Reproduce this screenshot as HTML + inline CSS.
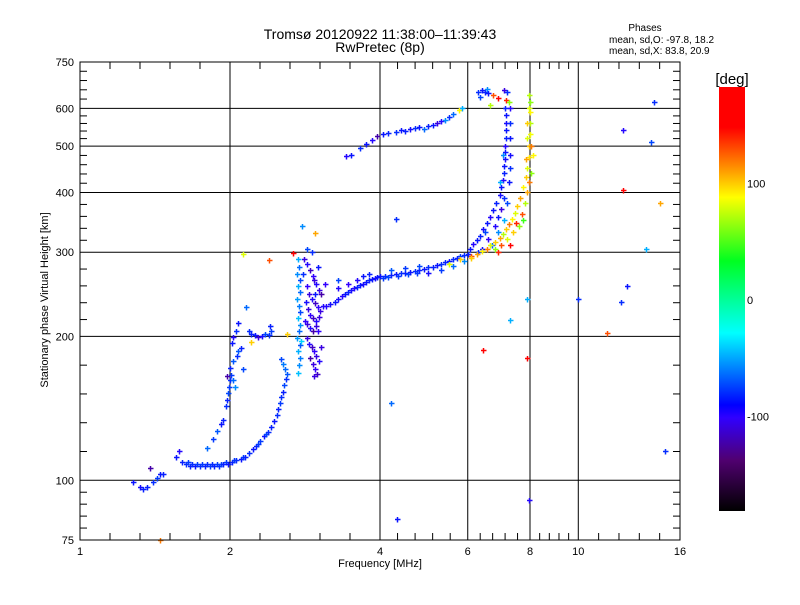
<!DOCTYPE html>
<html><head><meta charset="utf-8"><style>
body{margin:0;background:#fff;width:800px;height:600px;overflow:hidden}
svg text{font-family:"Liberation Sans",sans-serif;fill:#000}
</style></head><body>
<svg id="chart" width="800" height="600" xmlns="http://www.w3.org/2000/svg">
<defs>
<linearGradient id="cbar" x1="0" y1="1" x2="0" y2="0">
<stop offset="0" stop-color="#000000"/>
<stop offset="0.12" stop-color="#500070"/>
<stop offset="0.22" stop-color="#3000ff"/>
<stop offset="0.25" stop-color="#0000ff"/>
<stop offset="0.42" stop-color="#00ffff"/>
<stop offset="0.59" stop-color="#00ff20"/>
<stop offset="0.74" stop-color="#ffff00"/>
<stop offset="0.81" stop-color="#ff9000"/>
<stop offset="0.905" stop-color="#ff0000"/>
<stop offset="1" stop-color="#ff0000"/>
</linearGradient>
</defs>
<g id="grid"></g>
<g id="marks"></g>
<rect x="80" y="62" width="600" height="478" fill="none" stroke="#000" stroke-width="1"/>
<g id="ticks"></g>
<text x="380" y="39" font-size="14" text-anchor="middle">Tromsø 20120922 11:38:00–11:39:43</text>
<text x="380" y="52" font-size="14" text-anchor="middle">RwPretec (8p)</text>
<text x="645" y="31" font-size="10" text-anchor="middle">Phases</text>
<text x="609" y="43" font-size="10">mean, sd,O: -97.8, 18.2</text>
<text x="609" y="54" font-size="10">mean, sd,X:  83.8, 20.9</text>
<text transform="translate(48,300) rotate(-90)" font-size="11" text-anchor="middle">Stationary phase Virtual Height [km]</text>
<text x="380" y="567" font-size="11" text-anchor="middle">Frequency [MHz]</text>
<rect x="719" y="87" width="26" height="424" fill="url(#cbar)"/>
<text x="732" y="84" font-size="15" text-anchor="middle">[deg]</text>
<g id="cbticks"></g>
</svg>
<script>
const xTickValues=[1,2,4,6,8,10,16];
const xTickLabels=["1","2","4","6","8","10","16"];
const yTickValues=[75,100,200,300,400,500,600,750];
const yTickLabels=["75","100","200","300","400","500","600","750"];
const cbTickValues=[100,0,-100];
const cbTickLabels=["100","0","-100"];
const lowTrace=[[1.28,99,-110],[1.32,97,-115],[1.34,96,-105],[1.36,97,-105],[1.40,99,-100],[1.43,101,-95],[1.45,103,-110],[1.47,103,-105],[1.38,106,-140],
[1.56,112,-110],[1.6,109,-105],[1.63,108,-100],[1.65,109,-95],[1.66,107,-105],[1.68,108,-100],[1.7,107,-110],[1.72,108,-95],[1.74,107,-100],[1.76,108,-95],[1.78,107,-105],[1.8,108,-100],[1.82,107,-95],[1.84,108,-100],[1.86,107,-105],[1.88,108,-95],[1.9,107,-100],[1.92,108,-90],[1.94,108,-105],[1.96,109,-95],[1.98,108,-110],[2.02,109,-105],[2.04,110,-95],[2.06,110,-100],[2.1,111,-110],[2.12,112,-95],[2.14,112,-105],[2.18,114,-100],[2.22,116,-110],[2.26,118,-105],[2.28,119,-95],[2.3,121,-95],[2.34,124,-110],[2.36,125,-90],[2.38,126,-100],[2.42,129,-105],[2.45,133,-110],[2.48,137,-100],[2.5,141,-105],[2.52,145,-95],[2.53,149,-100],[2.55,153,-105],[2.57,158,-90],[2.59,163,-100],[2.6,167,-85],[2.58,171,-80],[2.55,175,-75],[2.53,179,-90]];
const leftBranch=[[1.58,115,-120],[1.8,117,-80],[1.85,122,-95],[1.88,127,-85],[1.92,131,-110],[1.94,134,-105],[1.96,143,-100],[1.97,147,-105],[1.98,152,-90],[1.99,157,-95],[2.0,162,-100],[2.01,166,-95],[2.03,162,-80],[2.05,157,-70],[1.97,165,-140],[2.0,172,-105],[2.03,178,-85],[2.07,182,-100],[2.08,186,-85],[2.1,189,-105],[2.02,194,-110],[2.03,199,-120],[2.06,205,-100],[2.08,213,-110],[2.15,230,-80],[2.18,205,-100],[2.2,202,-105],[2.24,201,-110],[2.28,199,-130],[2.32,200,-115],[2.35,202,-90],[2.4,201,-100],[2.42,205,-95],[2.41,210,-105],[2.12,171,-90],[2.12,297,80],[2.4,289,130],[2.67,299,150],[2.96,329,110],[2.79,340,-70],[2.2,195,100],[2.6,202,100]];
const spreadCluster=[[2.74,290,-60],[2.75,280,-80],[2.73,270,-70],[2.76,262,-90],[2.74,255,-60],[2.77,248,-80],[2.73,240,-65],[2.75,232,-75],[2.76,225,-90],[2.74,218,-55],[2.77,211,-70],[2.75,205,-80],[2.73,198,-65],[2.76,192,-85],[2.74,186,-60],[2.77,180,-75],[2.75,174,-70],[2.74,168,-55],[2.78,196,-50],
[2.82,290,-130],[2.86,283,-120],[2.9,275,-135],[2.93,268,-125],[2.95,262,-130],[2.98,258,-120],[3.02,250,-130],[3.05,245,-140],[2.85,255,-125],[2.88,245,-130],[2.92,240,-120],[2.96,235,-135],[3.0,230,-125],[3.03,226,-130],[2.84,236,-115],[2.87,228,-130],[2.9,222,-125],[2.94,218,-135],[2.98,215,-120],[3.02,220,-130],[2.83,215,-125],[2.86,212,-130],[2.89,208,-120],[2.93,205,-140],[2.97,210,-130],[3.0,205,-125],[2.85,198,-130],[2.88,193,-120],[2.92,190,-135],[2.95,186,-125],[2.98,182,-130],[3.02,178,-120],[2.9,180,-140],[2.93,175,-130],[2.96,171,-125],[2.99,167,-135],[2.95,165,-130],[3.05,190,-130],[3.08,232,-120],[3.1,258,-125],[3.0,280,-110],[2.92,300,-100],[2.85,305,-90],[2.8,270,-100],[2.96,245,-110]];
const fTrace=[[3.12,232,-120],[3.18,234,-115],[3.25,236,-110],[3.3,240,-115],[3.35,243,-120],[3.4,245,-110],[3.45,248,-105],[3.5,250,-115],[3.55,252,-120],[3.6,254,-105],[3.65,256,-110],[3.7,258,-115],[3.75,260,-110],[3.8,262,-105],[3.85,264,-110],[3.9,265,-115],[3.95,266,-110],[3.3,252,-120],[3.45,258,-125],[3.6,263,-120],[3.7,268,-110],[3.8,270,-105],[3.3,262,-90],
[4.0,267,-110],[4.05,265,-95],[4.1,268,-100],[4.15,266,-90],[4.2,269,-105],[4.3,270,-110],[4.35,268,-95],[4.4,271,-100],[4.5,272,-105],[4.55,270,-90],[4.6,273,-110],[4.7,274,-100],[4.75,272,-95],[4.8,276,-105],[4.9,277,-110],[5.0,279,-100],[5.1,280,-105],[5.2,282,-110],[5.3,284,-100],[5.4,286,-105],[5.5,288,-110],[5.6,290,-100],[5.7,292,-105],[5.8,294,-95],[5.9,296,-100],[6.0,298,-105],[4.2,275,-85],[4.5,278,-95],[4.8,281,-90],[5.0,272,-115],[5.3,276,-95],[5.6,281,-80],[5.9,288,-70],[5.5,283,80],[5.8,290,100],[6.1,295,130]];
const oTrace=[[6.05,305,-110],[6.15,312,-120],[6.25,318,-110],[6.35,325,-105],[6.45,335,-115],[6.55,345,-110],[6.65,356,-120],[6.75,367,-110],[6.85,380,-105],[6.95,395,-115],[7.0,410,-110],[7.05,425,-120],[7.08,440,-105],[7.1,455,-110],[7.12,470,-115],[7.13,485,-110],[7.14,500,-120],[7.15,520,-105],[7.15,540,-110],[7.16,560,-115],[7.15,580,-110],[7.14,600,-105],[7.25,420,-110],[7.28,450,-100],[7.3,480,-115],[7.3,520,-110],[7.3,560,-100],[7.28,600,-120],[6.4,305,-115],[6.6,320,-125],[6.8,340,-120],[6.9,355,-110],[7.0,370,-130],[7.1,390,-100],[6.5,330,-90],[6.7,310,-80],[6.3,300,-100],[6.9,330,-70],[7.1,350,-60],[7.2,380,-90],[6.95,420,-60],[7.05,480,-70]];
const xTrace=[[6.1,292,100],[6.25,297,110],[6.4,302,90],[6.55,305,120],[6.65,310,80],[6.8,315,100],[6.95,322,110],[7.05,328,70],[7.15,335,100],[7.25,343,120],[7.35,352,90],[7.45,362,80],[7.55,375,100],[7.65,390,110],[7.75,410,90],[7.85,430,100],[7.9,450,80],[7.95,475,95],[7.98,500,100],[8.0,530,85],[8.0,560,70],[8.0,590,90],[8.0,620,60],[7.95,640,70],[7.7,360,130],[7.8,380,70],[7.9,400,110],[7.6,340,60],[7.4,330,100],[7.2,320,80],[7.0,310,130],[6.8,305,60],[7.5,345,140],[7.95,420,120],[8.05,440,60],[7.85,470,110],[7.9,520,80],[8.05,500,120],[7.9,560,100],[7.95,600,80],[8.1,480,90],[7.75,350,40],[7.3,310,150],[6.9,300,140]];
const upperTrace=[[3.42,478,-120],[3.5,480,-110],[3.65,495,-100],[3.75,505,-110],[3.85,515,-120],[3.95,525,-140],[4.05,530,-110],[4.15,532,-105],[4.3,536,-100],[4.4,540,-110],[4.5,537,-105],[4.6,542,-115],[4.7,545,-100],[4.8,548,-110],[4.9,544,-80],[5.0,552,-105],[5.1,555,-110],[5.2,560,-130],[5.3,565,-120],[5.4,568,-70],[5.5,575,-100],[5.6,585,-80],[5.75,595,90],[5.85,600,-60],
[6.3,650,-100],[6.4,655,-110],[6.5,648,-105],[6.55,660,-70],[6.6,645,-110],[6.35,635,-90],[6.75,640,130],[6.9,630,150],[7.1,655,-130],[7.2,650,-100],[7.15,625,140],[7.25,620,60],[6.65,610,70]];
const outliers=[[7.95,91,-120],[4.33,83,-110],[4.2,145,-80],[4.3,352,-100],[7.9,180,150],[6.45,187,150],[7.3,216,-60],[7.9,240,-60],[10.0,240,-100],[12.2,236,-100],[12.5,255,-110],[11.4,203,130],[12.3,540,-120],[14.0,510,-90],[14.2,620,-100],[12.3,405,150],[13.7,305,-60],[14.9,115,-100],[14.6,380,110],[1.45,75,120]];

const X0=80,X1=680,Y0=540,Y1=62;
function xs(f){return X0+(Math.log2(f)/4)*(X1-X0);}
function ys(h){return Y0-(Math.log10(h/75))*(Y0-Y1);}
function cbY(v){return 300-v*1.167;}
const cstops=[[-183,[0,0,0]],[-150,[80,0,112]],[-125,[50,0,255]],[-110,[10,20,255]],[-90,[0,70,255]],[-37,[0,255,255]],[26,[0,255,32]],[88,[255,255,0]],[115,[255,144,0]],[148,[255,0,0]],[185,[255,0,0]]];
function col(p){for(let i=1;i<cstops.length;i++){if(p<=cstops[i][0]){const a=cstops[i-1],b=cstops[i];const t=(p-a[0])/(b[0]-a[0]);const c=a[1].map((v,k)=>Math.round(v+(b[1][k]-v)*t));return `rgb(${c[0]},${c[1]},${c[2]})`;}}return 'rgb(255,0,0)';}
const NS='http://www.w3.org/2000/svg';
function mk(tag,attrs,parent){const e=document.createElementNS(NS,tag);for(const k in attrs)e.setAttribute(k,attrs[k]);parent.appendChild(e);return e;}
const grid=document.getElementById('grid'),ticks=document.getElementById('ticks'),marks=document.getElementById('marks'),cbt=document.getElementById('cbticks');
[2,4,6,8,10].forEach(v=>{const l=mk('line',{x1:xs(v),x2:xs(v),y1:Y1,y2:Y0,stroke:'#000','stroke-width':1},grid);

});
[100,200,300,400,500,600].forEach(v=>{const l=mk('line',{x1:X0,x2:X1,y1:ys(v),y2:ys(v),stroke:'#000','stroke-width':1},grid);

});
for(let i=0;i<xTickValues.length-1;i++){const a=xs(xTickValues[i]),b=xs(xTickValues[i+1]);for(let k=1;k<5;k++){const x=a+(b-a)*k/5;
const t1=mk('line',{x1:x,x2:x,y1:Y0,y2:Y0-7,stroke:'#000'},ticks);


const t2=mk('line',{x1:x,x2:x,y1:Y1,y2:Y1+7,stroke:'#000'},ticks);

}}
for(let i=0;i<yTickValues.length-1;i++){const a=ys(yTickValues[i]),b=ys(yTickValues[i+1]);for(let k=1;k<5;k++){const y=a+(b-a)*k/5;
const t1=mk('line',{x1:X0,x2:X0+7,y1:y,y2:y,stroke:'#000'},ticks);


const t2=mk('line',{x1:X1,x2:X1-7,y1:y,y2:y,stroke:'#000'},ticks);

}}
xTickValues.forEach((v,i)=>{const t=mk('text',{x:xs(v),y:Y0+15,'font-size':11,'text-anchor':'middle'},ticks);t.textContent=xTickLabels[i];

});
yTickValues.forEach((v,i)=>{const t=mk('text',{x:X0-6,y:ys(v)+4,'font-size':11,'text-anchor':'end'},ticks);t.textContent=yTickLabels[i];

});
cbTickValues.forEach((v,i)=>{const t=mk('text',{x:747,y:cbY(v)+4,'font-size':11},cbt);t.textContent=cbTickLabels[i];

});
[lowTrace,leftBranch,spreadCluster,fTrace,oTrace,xTrace,upperTrace,outliers].forEach(arr=>{arr.forEach(p=>{const x=Math.round(xs(p[0]))+0.5,y=Math.round(ys(p[1]))+0.5,c=col(p[2]);
const g=mk('path',{d:`M${x-2.5},${y}H${x+3}M${x},${y-2.5}V${y+3}`,stroke:c,'stroke-width':1.5,fill:'none'},marks);

});});
</script>
</body></html>
